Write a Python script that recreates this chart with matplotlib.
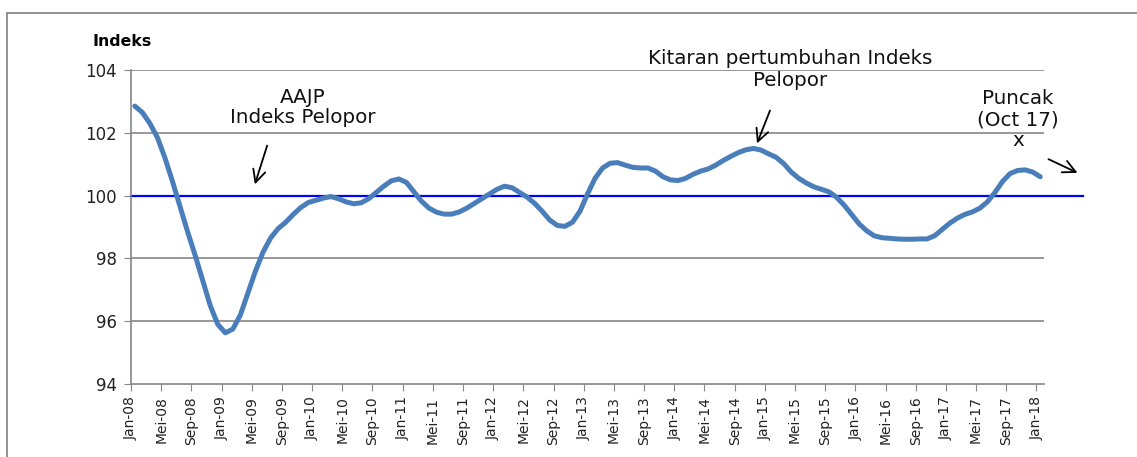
import matplotlib
import numpy as np

matplotlib.use("Agg")
import matplotlib.pyplot as plt
from matplotlib.patches import Rectangle

# monthly leading index, Jan-08 .. Jan-18
index_values = [
    102.85, 102.65, 102.30, 101.85, 101.20, 100.45, 99.65, 98.85, 98.10, 97.30, 96.50, 95.90,
    95.63, 95.75, 96.20, 96.90, 97.60, 98.20, 98.65, 98.95, 99.15, 99.40, 99.62, 99.78,
    99.85, 99.92, 99.97, 99.90, 99.80, 99.74, 99.77, 99.90, 100.10, 100.30, 100.47, 100.53,
    100.42, 100.12, 99.82, 99.60, 99.47, 99.41, 99.41, 99.48, 99.60, 99.75, 99.90, 100.05,
    100.20, 100.30, 100.25, 100.10, 99.95, 99.75, 99.50, 99.22, 99.05, 99.02, 99.15, 99.50,
    100.05, 100.55, 100.88, 101.03, 101.05, 100.97, 100.90, 100.88, 100.88, 100.78, 100.60, 100.50,
    100.48, 100.55, 100.68, 100.78, 100.85, 100.97, 101.12, 101.25, 101.37, 101.46, 101.50, 101.45,
    101.33, 101.22, 101.02, 100.75, 100.55, 100.40, 100.28, 100.20, 100.12, 99.95, 99.70, 99.40,
    99.10, 98.88, 98.72, 98.66, 98.64, 98.62, 98.61, 98.61, 98.62, 98.62, 98.72, 98.92,
    99.12, 99.28, 99.40, 99.48, 99.60, 99.80, 100.10, 100.45, 100.70, 100.80, 100.82, 100.75,
    100.60,
]
month_names = ["Jan", "Mei", "Sep"]
years = list(range(8, 19))
tick_labels = ["%s-%02d" % (m, y) for y in years for m in month_names][:31]
baseline = 100

plt.rcParams["font.family"] = ["DejaVu Sans"]

fig = plt.figure(figsize=(11.37, 4.57), dpi=100)
fig.patches.append(Rectangle((7 / 1137, -0.1), 1.2, 1 - 13 / 457 + 0.1,
                             transform=fig.transFigure, fill=False,
                             edgecolor="#7f7f7f", linewidth=1.2))
ax = fig.add_axes([131 / 1137, 1 - 384 / 457, 913 / 1137, 314 / 457])

x = np.arange(len(index_values)) + 0.5
ax.plot(x, index_values, color="#4A7EBB", linewidth=3.6, solid_capstyle="round", zorder=3)
ax.plot([0, 126.2], [baseline, baseline], color="#0000FF", linewidth=1.6,
        clip_on=False, zorder=2)

ax.set_xlim(0, 121)
ax.set_ylim(94, 104)
ax.set_yticks(range(94, 105, 2))
ax.set_xticks(range(0, 121, 4))
ax.set_xticklabels(tick_labels, rotation=90, fontsize=10, color="#222222")
ax.tick_params(axis="y", labelsize=12, length=5, color="#868686", pad=5, labelcolor="#222222")
ax.tick_params(axis="x", length=5, color="#868686", pad=4)
for yv in [96, 98, 102, 104]:
    ax.axhline(yv, color="#868686", linewidth=1.2, zorder=1)
for side in ["top", "right"]:
    ax.spines[side].set_visible(False)
for side in ["left", "bottom"]:
    ax.spines[side].set_color("#868686")
    ax.spines[side].set_linewidth(1.2)

fig.text(92 / 1137, 1 - 42 / 457, "Indeks", fontsize=11.3, fontweight="bold", va="center")

arrow = dict(arrowstyle="->,head_length=0.9,head_width=0.45", color="black", lw=1.3)
fig.text(303 / 1137, 1 - 107.5 / 457, "AAJP\nIndeks Pelopor", fontsize=14.3,
         ha="center", va="center", linespacing=1.12, color="#111111")
ax.annotate("", xy=(254, 457 - 187), xytext=(268, 457 - 143),
            xycoords="figure pixels", textcoords="figure pixels", arrowprops=arrow)
fig.text(790 / 1137, 1 - 69.5 / 457, "Kitaran pertumbuhan Indeks\nPelopor", fontsize=14.3,
         ha="center", va="center", linespacing=1.15, color="#111111")
ax.annotate("", xy=(756, 457 - 146), xytext=(771, 457 - 108),
            xycoords="figure pixels", textcoords="figure pixels", arrowprops=arrow)
fig.text(1018 / 1137, 1 - 119.5 / 457, "Puncak\n(Oct 17)\nx", fontsize=14.3,
         ha="center", va="center", linespacing=1.13, color="#111111")
ax.annotate("", xy=(1080, 457 - 174), xytext=(1046, 457 - 158),
            xycoords="figure pixels", textcoords="figure pixels", arrowprops=arrow)

plt.savefig("out.png", dpi=100)
